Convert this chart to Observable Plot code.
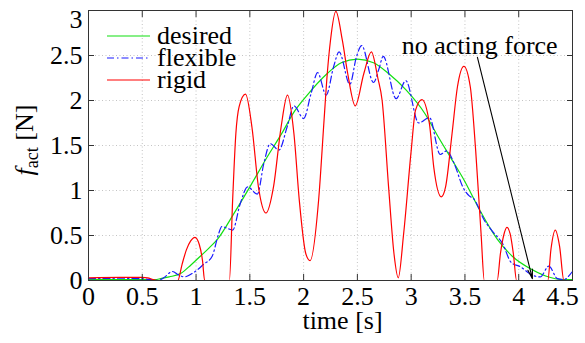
<!DOCTYPE html>
<html><head><meta charset="utf-8">
<script src="https://cdn.jsdelivr.net/npm/d3@7"></script>
<script src="https://cdn.jsdelivr.net/npm/@observablehq/plot@0.6"></script>
<style>
body{margin:0;background:#fff;}
#chart{position:relative;width:585px;height:343px;}
#chart svg, #chart svg text, #chart svg tspan{font-family:"Liberation Serif","DejaVu Serif",serif !important;}
</style></head><body><div id="chart"></div>
<script>
// ---- data ----
const desiredT = [0,0.5,0.62,0.67,0.75,0.86,0.95,1.04,1.12,1.20,1.35,1.51,1.66,1.80,1.91,2.02,2.22,2.35,2.50,2.65,2.79,2.95,3.13,3.24,3.37,3.49,3.63,3.80,3.94,4.11,4.25,4.42,4.5];
const desiredV = [0.01,0.01,0.01,0.02,0.04,0.08,0.17,0.27,0.36,0.46,0.74,1.06,1.37,1.64,1.87,2.04,2.30,2.42,2.46,2.42,2.30,2.12,1.85,1.62,1.36,1.12,0.80,0.46,0.27,0.13,0.05,0.01,0.01];

const flexibleT = [0,0.3,0.5,0.58,0.64,0.70,0.78,0.84,0.89,0.98,1.07,1.15,1.21,1.24,1.29,1.34,1.41,1.48,1.57,1.63,1.69,1.77,1.85,1.91,2.00,2.07,2.13,2.21,2.28,2.33,2.43,2.49,2.54,2.65,2.70,2.74,2.86,2.95,3.07,3.17,3.27,3.33,3.40,3.48,3.54,3.58,3.68,3.76,3.85,3.93,4.02,4.11,4.20,4.28,4.36,4.42,4.48,4.5];
const flexibleV = [0.02,0.025,0.02,0.01,0.0,0.03,0.10,0.06,0.04,0.09,0.18,0.27,0.52,0.60,0.58,0.56,0.85,1.04,0.96,1.30,1.52,1.45,1.72,1.94,1.80,2.08,2.31,2.06,2.38,2.54,2.18,2.48,2.61,2.20,2.35,2.49,2.02,2.22,1.75,1.81,1.40,1.44,1.30,1.04,0.94,0.91,0.67,0.54,0.41,0.20,0.15,0.07,0.04,0.16,0.02,0.01,0.07,0.10];

const rigidT = [0,0.3,0.5,0.55,0.60,0.64,0.83,0.87,0.91,0.95,0.99,1.03,1.06,1.08,1.31,1.34,1.37,1.40,1.46,1.52,1.58,1.65,1.72,1.79,1.85,1.91,1.96,2.02,2.06,2.14,2.19,2.22,2.25,2.30,2.36,2.41,2.48,2.56,2.63,2.69,2.73,2.79,2.84,2.88,2.93,3.00,3.04,3.10,3.17,3.21,3.28,3.32,3.38,3.43,3.49,3.55,3.60,3.65,3.68,3.80,3.83,3.86,3.89,3.92,3.95,3.98,4.27,4.30,4.34,4.38,4.42,4.5];
const rigidV = [0.03,0.035,0.035,0.03,0.01,0,0,0.18,0.34,0.44,0.48,0.40,0.22,0,0,0.89,1.63,1.93,2.07,1.70,1.04,0.75,1.04,1.70,2.06,1.63,0.89,0.30,0.22,0.90,1.78,2.30,2.67,2.99,2.67,2.30,1.94,2.30,2.54,2.25,2.00,1.04,0.30,0.03,0.52,1.44,1.89,2.01,1.74,1.26,0.93,1.04,1.63,2.15,2.38,2.15,1.44,0.52,0,0,0.30,0.50,0.59,0.52,0.30,0,0,0.35,0.56,0.38,0,0];

const xTicks = [0,0.5,1,1.5,2,2.5,3,3.5,4,4.5];
const xTickLabels = ["0","0.5","1","1.5","2","2.5","3","3.5","4","4.5"];
const yTicks = [0,0.5,1,1.5,2,2.5,3];
const yTickLabels = ["0","0.5","1","1.5","2","2.5","3"];

const seriesNames = ["desired","flexible","rigid"];
const seriesColors = ["#10e010","#1a1aff","#ff0000"];
const seriesDash = [null,"7,3,1.5,3",null];

const annotationText = [{t:3.637, v:2.608, label:"no acting force"}];
const annotationArrow = [{t1:3.616, v1:2.48, t2:4.127, v2:0.02}];

// ---- build tables ----
const desired = desiredT.map((t,i)=>({t, v:desiredV[i]}));
const flexible = flexibleT.map((t,i)=>({t, v:flexibleV[i]}));
const rigid = rigidT.map((t,i)=>({t, v:rigidV[i]}));

const FONT = '"Liberation Serif","DejaVu Serif",serif';
const FS = 26;
const gridStyle = {stroke:"#c4c4c4", strokeOpacity:1, strokeDasharray:"1,2.5", strokeWidth:1};
const xLast = xTicks[xTicks.length-1], yLast = yTicks[yTicks.length-1];
const fmtX = d=>xTickLabels[xTicks.indexOf(d)];
const fmtY = d=>yTickLabels[yTicks.indexOf(d)];

const plot = Plot.plot({
  width:585, height:343,
  marginLeft:88, marginRight:13, marginTop:10, marginBottom:63,
  style:{fontFamily:FONT, fontSize:FS+"px", background:"white", color:"#000", overflow:"visible"},
  x:{domain:[0,4.5]},
  y:{domain:[0,3]},
  marks:[
    Plot.gridX({ticks:xTicks, ...gridStyle}),
    Plot.gridY({ticks:yTicks, ...gridStyle}),
    Plot.line(desired, {x:"t", y:"v", stroke:seriesColors[0], strokeWidth:1.2, curve:"monotone-x"}),
    Plot.line(flexible, {x:"t", y:"v", stroke:seriesColors[1], strokeWidth:1.2, strokeDasharray:seriesDash[1], curve:"monotone-x"}),
    Plot.line(rigid, {x:"t", y:"v", stroke:seriesColors[2], strokeWidth:1.2, curve:"monotone-x"}),
    Plot.arrow(annotationArrow, {x1:"t1", y1:"v1", x2:"t2", y2:"v2", stroke:"#000", strokeWidth:1.1, headLength:13, headAngle:28}),
    Plot.text(annotationText, {x:"t", y:"v", text:"label", fontSize:FS, fill:"#000"}),
    // inward tick marks on all four sides
    Plot.axisX({ticks:xTicks, anchor:"bottom", tickSize:6, dy:-6, fill:"none", label:null, stroke:"#333"}),
    Plot.axisX({ticks:xTicks, anchor:"top", tickSize:6, dy:6, fill:"none", label:null, stroke:"#333"}),
    Plot.axisY({ticks:yTicks, anchor:"left", tickSize:6, dx:6, fill:"none", label:null, stroke:"#333"}),
    Plot.axisY({ticks:yTicks, anchor:"right", tickSize:6, dx:-6, fill:"none", label:null, stroke:"#333"}),
    // tick labels (last ones nudged inside the picture, as in the reference)
    Plot.axisX({ticks:xTicks.slice(0,-1), anchor:"bottom", tickSize:0, tickPadding:6.5, label:null, fill:"#000", tickFormat:fmtX}),
    Plot.axisX({ticks:[xLast], anchor:"bottom", tickSize:0, tickPadding:6.5, label:null, fill:"#000", tickFormat:fmtX, dx:-10}),
    Plot.axisY({ticks:yTicks.slice(0,-1), anchor:"left", tickSize:0, tickPadding:6, label:null, fill:"#000", tickFormat:fmtY}),
    Plot.axisY({ticks:[yLast], anchor:"left", tickSize:0, tickPadding:6, label:null, fill:"#000", tickFormat:fmtY, dy:9}),
    Plot.text(["time [s]"], {frameAnchor:"bottom", dy:48, dx:12, fill:"#000", fontSize:FS}),
    Plot.frame({stroke:"#333", strokeWidth:1})
  ]
});
document.getElementById("chart").appendChild(plot);

// ---- y label with subscript and in-plot legend ----
const svg = d3.select(plot);
const ylab = svg.append("text")
  .attr("transform","translate(33,140) rotate(-90)")
  .attr("text-anchor","middle")
  .attr("font-size",FS).attr("fill","#000");
ylab.append("tspan").attr("font-style","italic").text("f");
ylab.append("tspan").attr("font-size",18).attr("dy",5).text("act");
ylab.append("tspan").attr("dy",-5).text(" [N]");

const leg = svg.append("g").attr("font-size",FS).attr("fill","#000").attr("text-anchor","start");
seriesNames.forEach((name,i)=>{
  const yy = 36 + i*22;
  const ln = leg.append("line").attr("x1",107).attr("x2",150).attr("y1",yy).attr("y2",yy)
    .attr("stroke",seriesColors[i]).attr("stroke-width",1.2);
  if (seriesDash[i]) ln.attr("stroke-dasharray",seriesDash[i]);
  leg.append("text").attr("x",157).attr("y",yy+7.5).attr("text-anchor","start").text(name);
});
</script>
</body></html>
